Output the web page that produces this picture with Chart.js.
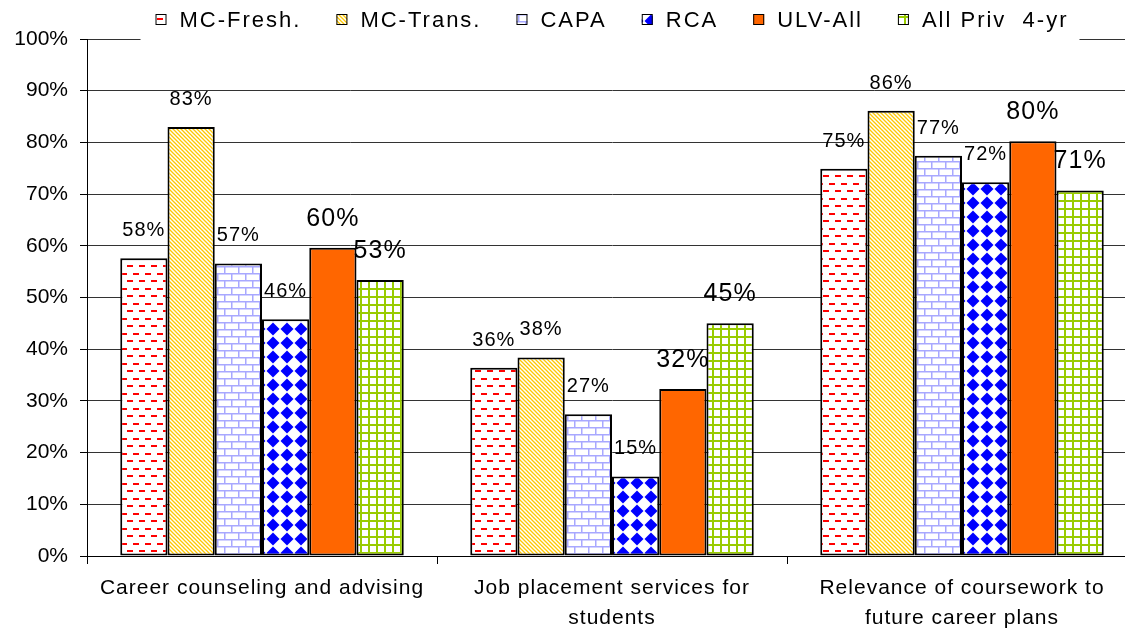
<!DOCTYPE html>
<html>
<head>
<meta charset="utf-8">
<script src="https://cdn.jsdelivr.net/npm/chart.js@4/dist/chart.umd.min.js"></script>
<style>
html, body { margin: 0; padding: 0; background: #fff; overflow: hidden; }
#wrap { position: relative; width: 1140px; height: 642px; }
</style>
</head>
<body>
<div id="wrap"><canvas id="chart"></canvas></div>
<script>
// chart data
var categories = [
    ['Career counseling and advising'],
    ['Job placement services for', 'students'],
    ['Relevance of coursework to', 'future career plans']
];
var seriesNames = ['MC-Fresh.', 'MC-Trans.', 'CAPA', 'RCA', 'ULV-All', 'All Priv  4-yr'];
var mcFresh = [57.6, 36.4, 74.9];
var mcTrans = [83.0, 38.4, 86.1];
var capa    = [56.6, 27.4, 77.4];
var rca     = [45.8, 15.4, 72.3];
var ulvAll  = [59.6, 32.3, 80.2];
var allPriv = [53.4, 45.0, 70.7];
var yTickValues = [0, 10, 20, 30, 40, 50, 60, 70, 80, 90, 100];

var FONT = '"Liberation Sans", Arial, sans-serif';
Chart.defaults.font.family = FONT;
Chart.defaults.color = '#000';

var canvas = document.getElementById('chart');
var mainCtx = canvas.getContext('2d');

function makePattern(w, h, paint) {
    var c = document.createElement('canvas');
    c.width = w;
    c.height = h;
    var g = c.getContext('2d');
    g.fillStyle = '#fff';
    g.fillRect(0, 0, w, h);
    paint(g, w, h);
    return mainCtx.createPattern(c, 'repeat');
}

// red dashes
var dashPattern = makePattern(12, 15, function (g) {
    g.fillStyle = '#ff0000';
    g.fillRect(1, 3, 6, 2);
    g.fillRect(7, 10, 6, 2);
    g.fillRect(-5, 10, 6, 2);
});
// yellow diagonal stripes
var stripePattern = makePattern(4, 4, function (g) {
    g.strokeStyle = '#ffc800';
    g.lineWidth = 1.3;
    g.beginPath();
    g.moveTo(-1, -1); g.lineTo(5, 5);
    g.moveTo(-1, 3); g.lineTo(1, 5);
    g.moveTo(3, -1); g.lineTo(5, 1);
    g.stroke();
});
// light blue bricks
var brickPattern = makePattern(14, 14, function (g) {
    g.fillStyle = '#a8a8ff';
    g.fillRect(0, 0, 14, 1.5);
    g.fillRect(0, 7, 14, 1.5);
    g.fillRect(0, 0, 1.5, 7);
    g.fillRect(7, 7, 1.5, 7);
});
// blue diamonds
var diamondPattern = makePattern(14, 14, function (g) {
    g.fillStyle = '#0000ff';
    g.beginPath();
    g.moveTo(7, 0.5); g.lineTo(13.5, 7); g.lineTo(7, 13.5); g.lineTo(0.5, 7);
    g.closePath();
    g.fill();
});
// green grid
var gridPattern = makePattern(8, 8, function (g) {
    g.fillStyle = '#99cc00';
    g.fillRect(0, 0, 8, 2);
    g.fillRect(0, 0, 2, 8);
});

var fills = [dashPattern, stripePattern, brickPattern, diamondPattern, '#ff6600', gridPattern];
var values = [mcFresh, mcTrans, capa, rca, ulvAll, allPriv];

var datasets = [];
for (var i = 0; i < seriesNames.length; i++) {
    datasets.push({
        label: seriesNames[i],
        data: values[i],
        backgroundColor: fills[i],
        borderColor: '#000',
        borderWidth: 2,
        borderSkipped: false,
        barPercentage: 1.0,
        categoryPercentage: 0.81
    });
}

var valueLabels = {
    id: 'valueLabels',
    beforeDraw: function (chart) {
        chart.ctx.letterSpacing = '0px';
    },
    afterDatasetsDraw: function (chart) {
        var ctx = chart.ctx;
        ctx.save();
        ctx.fillStyle = '#000';
        ctx.textAlign = 'center';
        ctx.textBaseline = 'alphabetic';
        ctx.letterSpacing = '1px';
        chart.data.datasets.forEach(function (ds, i) {
            var meta = chart.getDatasetMeta(i);
            ctx.font = (i >= 4 ? 25 : 20) + 'px ' + FONT;
            meta.data.forEach(function (bar, j) {
                ctx.fillText(Math.round(ds.data[j]) + '%', bar.x, bar.y - 22);
            });
        });
        ctx.restore();
        // x labels are drawn on a later layer, slightly spaced like the original
        ctx.letterSpacing = '1px';
    }
};

var patternLegend = {
    id: 'patternLegend',
    afterDraw: function (chart) {
        var ctx = chart.ctx, area = chart.chartArea;
        var box = 11, gap = 13, itemGap = 35, spacing = 2;
        ctx.save();
        ctx.font = '22px ' + FONT;
        ctx.letterSpacing = '0px';
        var widths = chart.data.datasets.map(function (ds) {
            return ctx.measureText(ds.label).width + ds.label.length * spacing;
        });
        var total = 0;
        widths.forEach(function (w) { total += box + gap + w; });
        total += itemGap * (widths.length - 1);
        var x = (area.left + area.right) / 2 - total / 2;

        ctx.fillStyle = '#fff';
        ctx.fillRect(x - 15, 0, total + 26, 42);

        ctx.letterSpacing = spacing + 'px';
        ctx.textBaseline = 'alphabetic';
        ctx.textAlign = 'left';
        chart.data.datasets.forEach(function (ds, i) {
            ctx.fillStyle = ds.backgroundColor;
            ctx.fillRect(x, 14, box, box);
            ctx.strokeStyle = '#000';
            ctx.lineWidth = 1;
            ctx.strokeRect(x + 0.5, 14.5, box - 1, box - 1);
            ctx.fillStyle = '#000';
            ctx.fillText(ds.label, x + box + gap, 27);
            x += box + gap + widths[i] + itemGap;
        });
        ctx.restore();
        ctx.letterSpacing = '0px';
    }
};

new Chart(canvas, {
    type: 'bar',
    data: {
        labels: categories,
        datasets: datasets
    },
    options: {
        responsive: true,
        maintainAspectRatio: false,
        animation: false,
        layout: { padding: { top: 39, right: 3, bottom: 0, left: 0 } },
        plugins: {
            legend: { display: false },
            tooltip: { enabled: false }
        },
        scales: {
            x: {
                grid: {
                    offset: true,
                    drawOnChartArea: false,
                    tickLength: 8,
                    tickColor: '#000'
                },
                border: { color: '#000', width: 1 },
                ticks: {
                    z: 1,
                    padding: 9,
                    maxRotation: 0,
                    autoSkip: false,
                    font: { size: 21, lineHeight: 1.43 }
                },
                afterFit: function (scale) { scale.height = 86; }
            },
            y: {
                min: 0,
                max: 100,
                afterBuildTicks: function (scale) {
                    scale.ticks = yTickValues.map(function (v) { return { value: v }; });
                },
                grid: {
                    color: '#333',
                    lineWidth: 1,
                    tickLength: 7,
                    tickColor: '#000'
                },
                border: { color: '#000', width: 1 },
                ticks: {
                    padding: 12,
                    font: { size: 21 },
                    callback: function (v) { return v + '%'; }
                },
                afterFit: function (scale) { scale.width = 87; }
            }
        }
    },
    plugins: [valueLabels, patternLegend]
});
</script>
</body>
</html>
